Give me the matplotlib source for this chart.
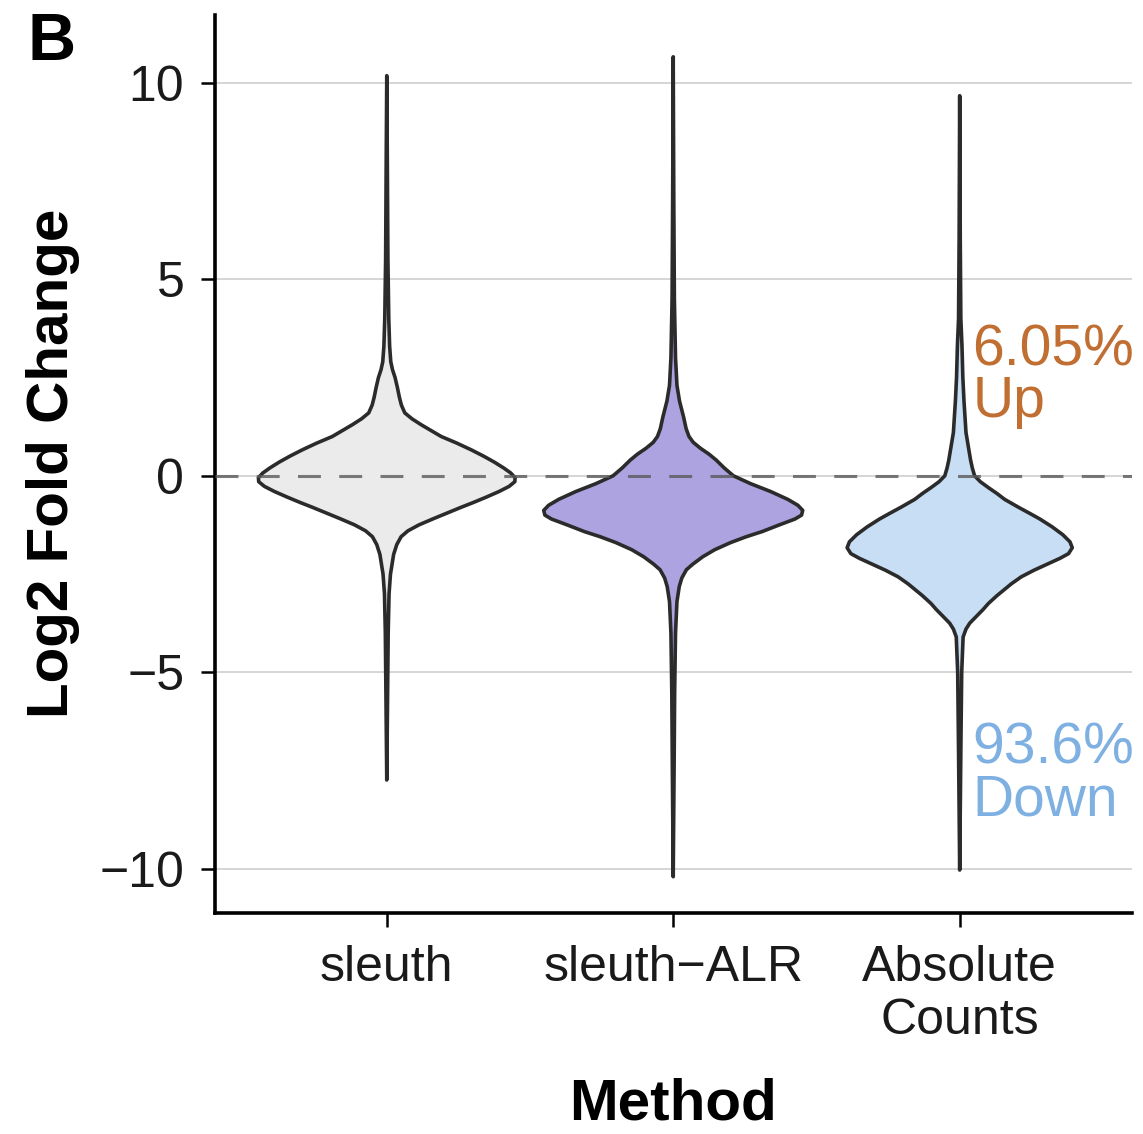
import matplotlib.pyplot as plt
import numpy as np

plt.rcParams['font.family'] = ['Liberation Sans', 'DejaVu Sans']

methods = ['sleuth', 'sleuth\u2212ALR', 'Absolute\nCounts']
fills = ['#EBEBEB', '#ADA3E0', '#C8DEF4']

# violin outlines: log2 fold change levels and the half-width at each level
sleuth_lfc = [10.18, 8.0, 5.5, 4.0, 3.3, 2.9, 2.7, 2.5, 2.25, 2.0, 1.8, 1.6,
              1.45, 1.3, 1.15, 1.0, 0.83, 0.66, 0.5, 0.35, 0.2, 0.07, -0.05,
              -0.15, -0.27, -0.4, -0.55, -0.68, -0.8, -0.95, -1.1, -1.25,
              -1.4, -1.55, -1.75, -2.0, -2.5, -3.0, -4.0, -5.5, -7.74]
sleuth_hw = [0.0, 0.002, 0.004, 0.007, 0.010, 0.014, 0.020, 0.029, 0.037,
             0.044, 0.051, 0.063, 0.088, 0.12, 0.155, 0.19, 0.245, 0.295,
             0.338, 0.375, 0.408, 0.433, 0.448, 0.447, 0.427, 0.392, 0.345,
             0.302, 0.26, 0.21, 0.16, 0.112, 0.074, 0.05, 0.035, 0.024,
             0.013, 0.008, 0.005, 0.003, 0.0]

alr_lfc = [10.66, 7.0, 4.5, 3.0, 2.3, 1.9, 1.5, 1.2, 1.0, 0.85, 0.7, 0.55,
           0.4, 0.2, 0.0, -0.2, -0.4, -0.6, -0.75, -0.88, -1.0, -1.1, -1.25,
           -1.42, -1.55, -1.7, -1.88, -2.06, -2.25, -2.39, -2.6, -2.82, -3.2,
           -4.0, -5.5, -7.5, -10.2]
alr_hw = [0.0, 0.002, 0.004, 0.008, 0.013, 0.022, 0.036, 0.045, 0.055, 0.07,
          0.095, 0.125, 0.15, 0.178, 0.21, 0.27, 0.34, 0.40, 0.435, 0.452,
          0.448, 0.425, 0.37, 0.31, 0.255, 0.20, 0.145, 0.103, 0.068, 0.046,
          0.03, 0.021, 0.013, 0.008, 0.005, 0.003, 0.0]

abs_lfc = [9.67, 6.0, 4.0, 3.3, 2.5, 1.9, 1.1, 0.4, 0.2, 0.0, -0.15, -0.3,
           -0.45, -0.6, -0.8, -0.95, -1.1, -1.3, -1.5, -1.68, -1.83, -1.98,
           -2.1, -2.25, -2.4, -2.57, -2.75, -2.9, -3.05, -3.25, -3.4, -3.6,
           -3.75, -3.9, -4.1, -5.0, -7.0, -10.03]
abs_hw = [0.0, 0.002, 0.004, 0.008, 0.011, 0.015, 0.022, 0.038, 0.044, 0.052,
          0.072, 0.10, 0.13, 0.157, 0.205, 0.243, 0.28, 0.323, 0.36, 0.385,
          0.393, 0.38, 0.35, 0.305, 0.26, 0.215, 0.18, 0.155, 0.13, 0.10,
          0.082, 0.055, 0.035, 0.022, 0.012, 0.007, 0.004, 0.0]

profiles = [(sleuth_lfc, sleuth_hw), (alr_lfc, alr_hw), (abs_lfc, abs_hw)]

pct_up = '6.05%'
pct_down = '93.6%'

fig = plt.figure(figsize=(11.43, 11.34), dpi=100)
ax = fig.add_axes([0.188, 0.195, 0.802, 0.792])

for pos, ((lfc, hw), fill) in enumerate(zip(profiles, fills), start=1):
    lfc = np.asarray(lfc)
    hw = np.asarray(hw)
    xs = np.concatenate([pos + hw, (pos - hw)[::-1]])
    ys = np.concatenate([lfc, lfc[::-1]])
    ax.fill(xs, ys, facecolor=fill, edgecolor='#2B2B2B', lw=2.6,
            joinstyle='round', zorder=2)

ax.axhline(0, color='#5A5A5A', alpha=0.8, lw=2.2, ls=(0, (7.5, 6)), zorder=3)

ax.set_xlim(0.4, 3.6)
ax.set_ylim(-11.12, 11.73)
ax.set_xticks([1, 2, 3])
ax.set_xticklabels(methods)
ax.set_yticks([-10, -5, 0, 5, 10])

ax.set_axisbelow(True)
ax.yaxis.grid(True, color='#D2D2D2', lw=1.3)
for side in ['top', 'right']:
    ax.spines[side].set_visible(False)
for side in ['left', 'bottom']:
    ax.spines[side].set_linewidth(2.6)
    ax.spines[side].set_color('black')

ax.tick_params(axis='both', length=10, width=1.8, color='black',
               labelsize=36, labelcolor='#1A1A1A')
ax.tick_params(axis='y', pad=12)
ax.tick_params(axis='x', pad=13)
for lab in ax.get_xticklabels():
    lab.set_linespacing(1.2)

ax.set_ylabel('Log2 Fold Change', fontsize=42, fontweight='bold')
ax.yaxis.set_label_coords(-0.147, 0.5)
ax.set_xlabel('Method', fontsize=42, fontweight='bold')
ax.xaxis.set_label_coords(0.5, -0.183)

ax.text(3.045, 3.88, pct_up + '\nUp', color='#C06E32', fontsize=41,
        ha='left', va='top', linespacing=0.95)
ax.text(3.045, -6.25, pct_down + '\nDown', color='#7EB0E2', fontsize=41,
        ha='left', va='top', linespacing=0.95)

fig.text(27 / 1143, 1 - 12 / 1134, 'B', fontsize=48, fontweight='bold',
         ha='left', va='top')

fig.savefig('out.png', dpi=100)
